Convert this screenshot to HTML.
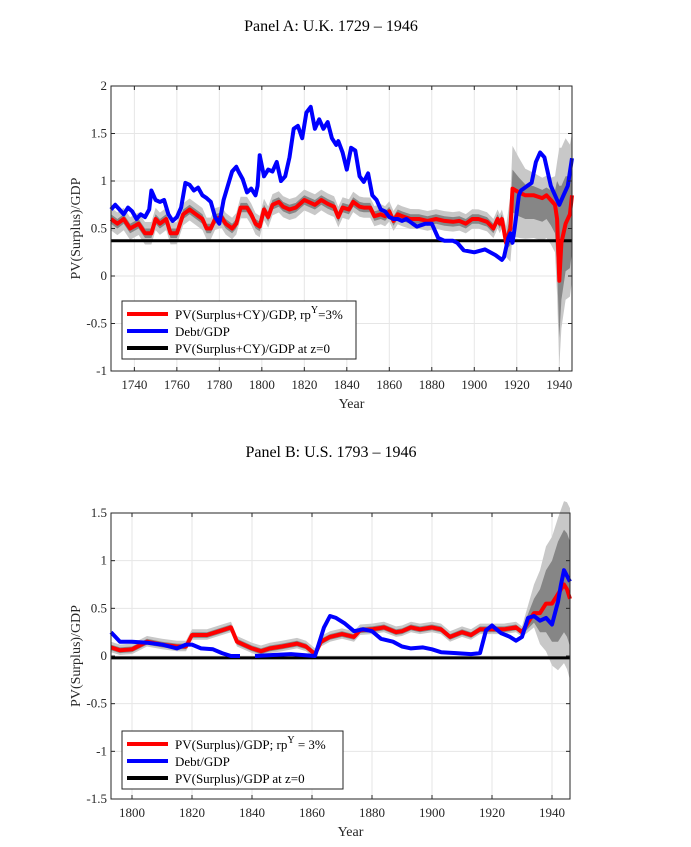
<!DOCTYPE html>
<html><head><meta charset="utf-8">
<style>
body{margin:0;background:#fff;}
svg{display:block;font-family:"Liberation Serif",serif;}
</style></head>
<body>
<svg id="chart" width="691" height="847" viewBox="0 0 691 847" xmlns="http://www.w3.org/2000/svg">
<text x="331" y="31" font-size="16" text-anchor="middle">Panel A: U.K. 1729 – 1946</text>
<text x="331" y="457" font-size="16" text-anchor="middle">Panel B: U.S. 1793 – 1946</text>
<g id="pa"></g>
<g id="pb"></g>
</svg>
<script>
// ---- Panel A data (U.K.) ----
const ukRedYears=[1729,1732,1735,1738,1742,1745,1748,1750,1752,1755,1757,1760,1763,1766,1769,1772,1774,1776,1778,1781,1783,1786,1788,1790,1793,1795,1797,1799,1801,1803,1805,1808,1810,1813,1816,1820,1822,1825,1828,1831,1834,1836,1838,1841,1843,1846,1848,1851,1853,1856,1858,1860,1862,1864,1866,1870,1874,1878,1882,1886,1890,1893,1896,1899,1902,1906,1909,1911,1912,1913,1915,1917,1918,1921,1924,1928,1932,1934,1936,1938,1939,1940,1941,1943,1945,1946];
const ukRed=[0.6,0.55,0.6,0.5,0.55,0.45,0.45,0.6,0.55,0.6,0.45,0.45,0.65,0.7,0.65,0.6,0.5,0.5,0.6,0.62,0.55,0.5,0.55,0.72,0.72,0.65,0.55,0.52,0.7,0.62,0.75,0.78,0.73,0.7,0.72,0.8,0.78,0.75,0.8,0.76,0.73,0.62,0.72,0.7,0.78,0.73,0.72,0.72,0.63,0.65,0.63,0.68,0.58,0.65,0.63,0.6,0.6,0.58,0.6,0.58,0.57,0.58,0.55,0.6,0.6,0.57,0.5,0.6,0.55,0.6,0.35,0.5,0.92,0.88,0.85,0.85,0.82,0.85,0.8,0.75,0.6,-0.05,0.35,0.55,0.65,0.85];
const ukBlueYears=[1729,1731,1733,1735,1737,1739,1741,1743,1745,1747,1748,1750,1752,1754,1756,1758,1760,1762,1764,1766,1768,1770,1772,1774,1776,1778,1780,1782,1784,1786,1788,1789,1791,1793,1795,1797,1798,1799,1801,1803,1805,1807,1809,1811,1813,1815,1817,1819,1821,1823,1825,1827,1829,1831,1833,1835,1836,1838,1840,1842,1844,1846,1848,1850,1852,1854,1856,1858,1860,1862,1864,1866,1868,1871,1873,1877,1880,1883,1886,1890,1892,1895,1900,1905,1910,1913,1914,1916,1917,1918,1919,1921,1922,1925,1927,1929,1931,1933,1936,1939,1940,1942,1944,1946];
const ukBlue=[0.7,0.75,0.7,0.65,0.72,0.68,0.6,0.65,0.62,0.7,0.9,0.8,0.78,0.8,0.65,0.58,0.62,0.72,0.98,0.96,0.9,0.93,0.85,0.82,0.78,0.62,0.55,0.8,0.95,1.1,1.15,1.1,1.02,0.88,0.92,0.85,0.95,1.27,1.05,1.12,1.1,1.2,1.0,1.05,1.25,1.55,1.58,1.45,1.72,1.78,1.55,1.65,1.55,1.62,1.45,1.38,1.42,1.3,1.12,1.35,1.32,1.05,0.99,1.08,0.85,0.8,0.7,0.68,0.62,0.6,0.6,0.58,0.6,0.55,0.52,0.55,0.55,0.4,0.37,0.37,0.35,0.27,0.25,0.28,0.22,0.17,0.2,0.4,0.45,0.35,0.5,0.85,0.9,0.95,0.98,1.2,1.3,1.25,0.95,0.8,0.75,0.85,0.95,1.24];
const ukZero=[0.37];
// uncertainty band half-widths around the red series
const ukBandYears=[1729,1914,1916,1918,1925,1935,1938,1939,1940,1941,1943,1946];
const ukLightUp=[0.12,0.1,0.25,0.45,0.25,0.2,0.3,0.6,1.4,1.0,0.9,0.65];
const ukLightDn=[0.12,0.1,0.2,0.5,0.45,0.45,0.5,0.8,0.9,0.9,0.8,0.9];
const ukDarkUp=[0.05,0.05,0.1,0.2,0.1,0.08,0.15,0.4,1.0,0.6,0.5,0.35];
const ukDarkDn=[0.05,0.05,0.1,0.25,0.25,0.25,0.3,0.5,0.6,0.6,0.5,0.6];
const ukXTicks=[1740,1760,1780,1800,1820,1840,1860,1880,1900,1920,1940];
const ukYTicks=[-1,-0.5,0,0.5,1,1.5,2];

// ---- Panel B data (U.S.) ----
const usRedYears=[1793,1796,1800,1805,1810,1815,1818,1820,1825,1830,1833,1835,1840,1843,1846,1850,1855,1858,1861,1863,1866,1870,1874,1876,1880,1884,1888,1890,1893,1896,1900,1903,1906,1910,1913,1916,1920,1924,1928,1930,1932,1934,1936,1938,1940,1942,1944,1945,1946];
const usRed=[0.09,0.06,0.07,0.15,0.12,0.1,0.1,0.22,0.22,0.27,0.3,0.15,0.08,0.05,0.08,0.1,0.13,0.1,0.02,0.15,0.2,0.23,0.2,0.27,0.28,0.3,0.25,0.26,0.3,0.28,0.3,0.28,0.2,0.25,0.22,0.28,0.28,0.28,0.3,0.25,0.35,0.45,0.45,0.55,0.55,0.65,0.75,0.7,0.6];
const usBlueYears=[1793,1796,1800,1805,1810,1815,1818,1820,1823,1827,1830,1833,1836,1838,1841,1847,1853,1861,1864,1866,1868,1871,1874,1877,1880,1883,1887,1890,1893,1897,1900,1903,1908,1913,1916,1918,1920,1923,1926,1928,1930,1932,1934,1936,1938,1940,1942,1943,1944,1946];
const usBlue=[0.25,0.15,0.15,0.14,0.12,0.08,0.12,0.12,0.08,0.07,0.03,0.0,0.0,null,0.0,0.01,0.02,0.0,0.3,0.42,0.4,0.34,0.26,0.28,0.26,0.18,0.15,0.1,0.08,0.09,0.07,0.04,0.03,0.02,0.03,0.27,0.32,0.24,0.2,0.16,0.2,0.4,0.42,0.37,0.4,0.33,0.57,0.75,0.9,0.78];
const usZero=[-0.02];
const usBandYears=[1793,1930,1934,1938,1942,1946];
const usLightUp=[0.06,0.06,0.3,0.6,0.8,0.95];
const usLightDn=[0.05,0.05,0.15,0.5,0.8,0.85];
const usDarkUp=[0.03,0.03,0.15,0.35,0.55,0.6];
const usDarkDn=[0.03,0.03,0.1,0.3,0.5,0.5];
const usXTicks=[1800,1820,1840,1860,1880,1900,1920,1940];
const usYTicks=[-1.5,-1,-0.5,0,0.5,1,1.5];

const NS="http://www.w3.org/2000/svg";
function mk(tag,parent,attrs){const e=document.createElementNS(NS,tag);for(const k in attrs)e.setAttribute(k,attrs[k]);parent.appendChild(e);return e;}
function interp(xs,vs,x){
  if(x<=xs[0])return vs[0];
  for(let i=1;i<xs.length;i++){if(x<=xs[i]){const t=(x-xs[i-1])/(xs[i]-xs[i-1]);return vs[i-1]+t*(vs[i]-vs[i-1]);}}
  return vs[vs.length-1];
}

function drawPanel(g,o){
  const X=y=>o.x0+(y-o.xmin)/(o.xmax-o.xmin)*(o.x1-o.x0);
  const Y=v=>o.y1-(v-o.ymin)/(o.ymax-o.ymin)*(o.y1-o.y0);
  o.xt.forEach(t=>{const l=mk('line',g,{x1:X(t),x2:X(t),y1:o.y0,y2:o.y1,stroke:'#e6e6e6','stroke-width':1});
    
    });
  o.yt.forEach(t=>{const l=mk('line',g,{x1:o.x0,x2:o.x1,y1:Y(t),y2:Y(t),stroke:'#e6e6e6','stroke-width':1});
    
    });
  function band(up,dn,col,name){
    let d='M';
    o.ry.forEach((yr,i)=>{d+=(i?' L':'')+X(yr).toFixed(1)+','+Y(o.rv[i]+interp(o.by,up,yr)).toFixed(1);});
    for(let i=o.ry.length-1;i>=0;i--){const yr=o.ry[i];d+=' L'+X(yr).toFixed(1)+','+Y(o.rv[i]-interp(o.by,dn,yr)).toFixed(1);}
    const p=mk('path',g,{d:d+'Z',fill:col,stroke:'none'});
    
    
  }
  band(o.lUp,o.lDn,'#c8c8c8','confidence-band-outer');
  band(o.dUp,o.dDn,'#868686','confidence-band-inner');
  function line(ys,vs,col,w,name){
    let d='',pen=false;
    ys.forEach((yr,i)=>{const v=vs[i];if(v===null){pen=false;return;}
      d+=(pen?' L':' M')+X(yr).toFixed(1)+','+Y(v).toFixed(1);pen=true;});
    const p=mk('path',g,{d:d,fill:'none',stroke:col,'stroke-width':w,'stroke-linejoin':'round'});
    
    
  }
  line([o.xmin,o.xmax],[o.zero[0],o.zero[0]],'#000',3,'zero-line');
  line(o.ry,o.rv,'#ff0000',4,'red-series-line');
  line(o.bly,o.blv,'#0000ff',4,'blue-series-line');
  const r=mk('rect',g,{x:o.x0,y:o.y0,width:o.x1-o.x0,height:o.y1-o.y0,fill:'none',stroke:'#262626','stroke-width':1});
  
  
  o.xt.forEach(t=>{
    mk('line',g,{x1:X(t),x2:X(t),y1:o.y1,y2:o.y1-4,stroke:'#262626'});
    mk('line',g,{x1:X(t),x2:X(t),y1:o.y0,y2:o.y0+4,stroke:'#262626'});
    const tx=mk('text',g,{x:X(t),y:o.y1+18,'font-size':13,'text-anchor':'middle',fill:'#262626'});
    tx.textContent=String(t);
    
    });
  o.yt.forEach(t=>{
    mk('line',g,{x1:o.x0,x2:o.x0+4,y1:Y(t),y2:Y(t),stroke:'#262626'});
    mk('line',g,{x1:o.x1,x2:o.x1-4,y1:Y(t),y2:Y(t),stroke:'#262626'});
    const tx=mk('text',g,{x:o.x0-4,y:Y(t)+4,'font-size':13,'text-anchor':'end',fill:'#262626'});
    tx.textContent=String(t);
    
    });
  const xl=mk('text',g,{x:(o.x0+o.x1)/2+10,y:o.y1+37,'font-size':14,'text-anchor':'middle',fill:'#262626'});
  xl.textContent='Year';
  
  
  const yl=mk('text',g,{x:0,y:0,'font-size':14,'text-anchor':'middle',fill:'#262626',transform:`translate(80,${(o.y0+o.y1)/2}) rotate(-90)`});
  yl.textContent='PV(Surplus)/GDP';
  
  
  const L=o.leg;
  const lg=mk('g',g,{});
  
  
  mk('rect',lg,{x:L.x,y:L.y,width:L.w,height:58,fill:'#fff',stroke:'#262626','stroke-width':1});
  const cols=['#ff0000','#0000ff','#000000'];
  L.items.forEach((it,i)=>{
    const yy=L.y+13+i*17;
    const e=mk('g',lg,{});
    
    
    mk('line',e,{x1:L.x+5,x2:L.x+46,y1:yy,y2:yy,stroke:cols[i],'stroke-width':4});
    const t=mk('text',e,{x:L.x+53,y:yy+5,'font-size':13,fill:'#000'});
    t.innerHTML=it;
  });
}

drawPanel(document.getElementById('pa'),{x0:111,x1:572,y0:86,y1:371,xmin:1729,xmax:1946,ymin:-1,ymax:2,
  xt:ukXTicks,yt:ukYTicks,by:ukBandYears,lUp:ukLightUp,lDn:ukLightDn,dUp:ukDarkUp,dDn:ukDarkDn,
  ry:ukRedYears,rv:ukRed,bly:ukBlueYears,blv:ukBlue,zero:ukZero,
  leg:{x:122,y:301,w:234,items:['PV(Surplus+CY)/GDP, rp<tspan dy="-6" font-size="10">Y</tspan><tspan dy="6">=3%</tspan>','Debt/GDP','PV(Surplus+CY)/GDP at z=0']}});
drawPanel(document.getElementById('pb'),{x0:111,x1:570,y0:513,y1:799,xmin:1793,xmax:1946,ymin:-1.5,ymax:1.5,
  xt:usXTicks,yt:usYTicks,by:usBandYears,lUp:usLightUp,lDn:usLightDn,dUp:usDarkUp,dDn:usDarkDn,
  ry:usRedYears,rv:usRed,bly:usBlueYears,blv:usBlue,zero:usZero,
  leg:{x:122,y:731,w:221,items:['PV(Surplus)/GDP; rp<tspan dy="-6" font-size="10">Y</tspan><tspan dy="6"> = 3%</tspan>','Debt/GDP','PV(Surplus)/GDP at z=0']}});
</script>
</body></html>
